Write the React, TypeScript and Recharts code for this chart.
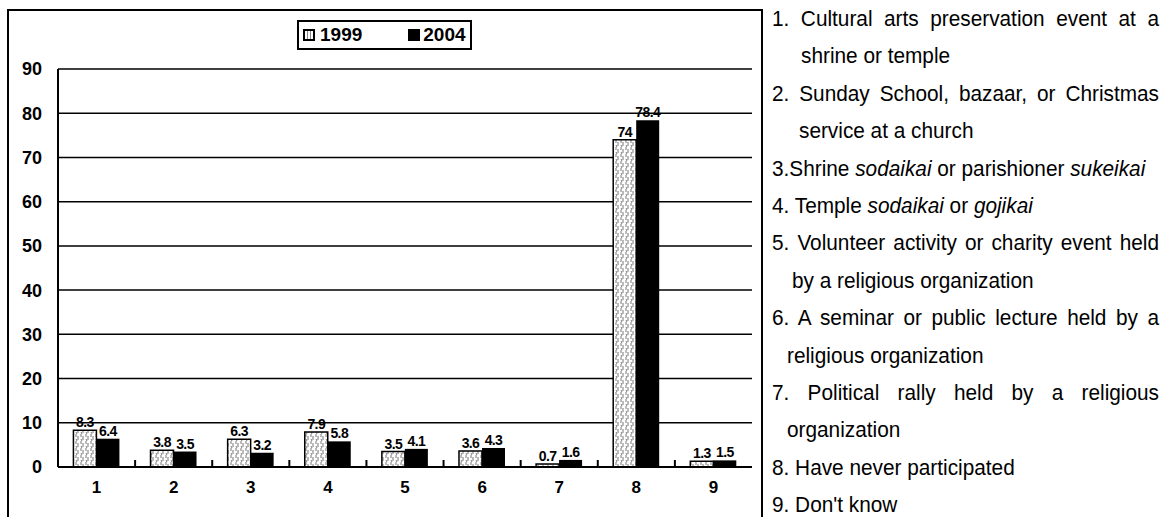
import React from 'react';
import { BarChart, Bar, XAxis, YAxis, CartesianGrid, LabelList } from 'recharts';

// survey answers, % of respondents
const categories = ['1', '2', '3', '4', '5', '6', '7', '8', '9'];
const values1999 = [8.3, 3.8, 6.3, 7.9, 3.5, 3.6, 0.7, 74, 1.3];
const values2004 = [6.4, 3.5, 3.2, 5.8, 4.1, 4.3, 1.6, 78.4, 1.5];
const seriesNames = ['1999', '2004'];
const yTicks = [0, 10, 20, 30, 40, 50, 60, 70, 80, 90];

// right-hand key, one entry per printed line
type Seg = { t: string; i?: boolean };
type KeyLine = { segs: Seg[]; indent: number; justify?: boolean };

const keyLines: KeyLine[] = [
  { segs: [{ t: '1. Cultural arts preservation event at a' }], indent: 0, justify: true },
  { segs: [{ t: 'shrine or temple' }], indent: 29 },
  { segs: [{ t: '2. Sunday School, bazaar, or Christmas' }], indent: 0, justify: true },
  { segs: [{ t: 'service at a church' }], indent: 27 },
  {
    segs: [
      { t: '3.Shrine ' },
      { t: 'sodaikai', i: true },
      { t: ' or parishioner ' },
      { t: 'sukeikai', i: true },
    ],
    indent: 0,
  },
  { segs: [{ t: '4. Temple ' }, { t: 'sodaikai', i: true }, { t: ' or ' }, { t: 'gojikai', i: true }], indent: 0 },
  { segs: [{ t: '5. Volunteer activity or charity event held' }], indent: 0, justify: true },
  { segs: [{ t: 'by a religious organization' }], indent: 20 },
  { segs: [{ t: '6. A seminar or public lecture held by a' }], indent: 0, justify: true },
  { segs: [{ t: 'religious organization' }], indent: 15 },
  { segs: [{ t: '7. Political rally held by a religious' }], indent: 0, justify: true },
  { segs: [{ t: 'organization' }], indent: 15 },
  { segs: [{ t: '8. Have never participated' }], indent: 0 },
  { segs: [{ t: "9. Don't know" }], indent: 0 },
];

const data = categories.map((name, i) => ({
  name,
  v1999: values1999[i],
  v2004: values2004[i],
}));

const PLOT_LEFT = 58;
const PLOT_RIGHT = 752;
const BAND = (PLOT_RIGHT - PLOT_LEFT) / categories.length;
const SQUEEZE = 0.945;

const XTick = (props: any) => {
  const { x, y, payload, index } = props;
  const half = payload && payload.offset ? payload.offset : BAND / 2;
  return (
    <g>
      {index < categories.length - 1 && (
        <line x1={x + half} x2={x + half} y1={y} y2={y - 7} stroke="#000" strokeWidth={2} />
      )}
      <text
        x={x}
        y={y + 26}
        textAnchor="middle"
        fontSize={17}
        fontWeight="bold"
        fontFamily="'Liberation Sans', Arial, sans-serif"
        fill="#000"
      >
        {payload.value}
      </text>
    </g>
  );
};

const App = () => {
  return (
    <div
      style={{
        position: 'absolute',
        left: 0,
        top: 0,
        width: 1167,
        height: 517,
        overflow: 'hidden',
        background: '#fff',
        fontFamily: "'Liberation Sans', Arial, sans-serif",
      }}
    >
      {/* chart frame */}
      <div
        style={{
          position: 'absolute',
          left: 7,
          top: 9,
          width: 756,
          height: 530,
          border: '2px solid #000',
          boxSizing: 'border-box',
        }}
      />

      <div style={{ position: 'absolute', left: 0, top: 0 }}>
        <BarChart
          width={763}
          height={517}
          data={data}
          margin={{ top: 69, right: 11, left: 0, bottom: 20 }}
          barCategoryGap="20%"
          barGap={0}
        >
          <defs>
            <pattern id="hatch" width="5" height="7" patternUnits="userSpaceOnUse">
              <rect width="5" height="7" fill="#fff" />
              <path d="M1 0 L1 3 M3 2 L3 6 M1 5 L2 7" stroke="#777" strokeWidth={1} />
            </pattern>
          </defs>
          <CartesianGrid vertical={false} stroke="#000" strokeWidth={1.5} />
          <XAxis
            dataKey="name"
            height={30}
            tickLine={false}
            tickSize={0}
            tickMargin={0}
            axisLine={{ stroke: '#000', strokeWidth: 2 }}
            tick={<XTick />}
            interval={0}
          />
          <YAxis
            domain={[0, 90]}
            ticks={yTicks}
            width={PLOT_LEFT}
            tickLine={false}
            tickMargin={10}
            axisLine={{ stroke: '#000', strokeWidth: 2 }}
            tick={{ fill: '#000', fontSize: 18, fontWeight: 'bold' }}
          />
          <YAxis
            yAxisId="r"
            orientation="right"
            domain={[0, 90]}
            width={0}
            tick={false}
            tickLine={false}
            axisLine={{ stroke: '#000', strokeWidth: 2 }}
          />
          <Bar
            dataKey="v1999"
            name={seriesNames[0]}
            fill="url(#hatch)"
            stroke="#000"
            strokeWidth={1.5}
            isAnimationActive={false}
          >
            <LabelList
              dataKey="v1999"
              position="top"
              offset={3}
              fill="#000"
              fontSize={14}
              fontWeight="bold"
              letterSpacing={-0.6}
            />
          </Bar>
          <Bar dataKey="v2004" name={seriesNames[1]} fill="#000" isAnimationActive={false}>
            <LabelList
              dataKey="v2004"
              position="top"
              offset={3}
              fill="#000"
              fontSize={14}
              fontWeight="bold"
              letterSpacing={-0.6}
            />
          </Bar>
        </BarChart>
      </div>

      {/* legend */}
      <div
        style={{
          position: 'absolute',
          left: 297,
          top: 20,
          width: 175,
          height: 30,
          border: '2px solid #000',
          boxSizing: 'border-box',
          display: 'flex',
          alignItems: 'center',
          fontWeight: 'bold',
          fontSize: 19,
        }}
      >
        <span
          style={{
            display: 'inline-block',
            width: 8,
            height: 8,
            border: '2px solid #000',
            background: 'repeating-linear-gradient(90deg, #fff 0 2px, #888 2px 3px)',
            marginLeft: 4,
            marginRight: 5,
          }}
        />
        <span>{seriesNames[0]}</span>
        <span
          style={{
            display: 'inline-block',
            width: 12,
            height: 12,
            background: '#000',
            marginLeft: 46,
            marginRight: 3,
          }}
        />
        <span>{seriesNames[1]}</span>
      </div>

      {/* category key */}
      <div
        style={{
          position: 'absolute',
          left: 772,
          top: 0,
          width: 387 / SQUEEZE,
          transform: `scaleX(${SQUEEZE})`,
          transformOrigin: '0 0',
          fontFamily: "'Liberation Sans', Arial, sans-serif",
          fontSize: 22,
          color: '#000',
        }}
      >
        {keyLines.map((ln, k) => (
          <div
            key={k}
            style={{
              height: 37.4,
              lineHeight: '37.4px',
              paddingLeft: ln.indent / SQUEEZE,
              whiteSpace: 'nowrap',
              textAlign: ln.justify ? 'justify' : 'left',
              textAlignLast: ln.justify ? 'justify' : 'left',
            }}
          >
            {ln.segs.map((s, j) => (
              <span key={j} style={{ fontStyle: s.i ? 'italic' : 'normal' }}>
                {s.t}
              </span>
            ))}
          </div>
        ))}
      </div>
    </div>
  );
};

export default App;
